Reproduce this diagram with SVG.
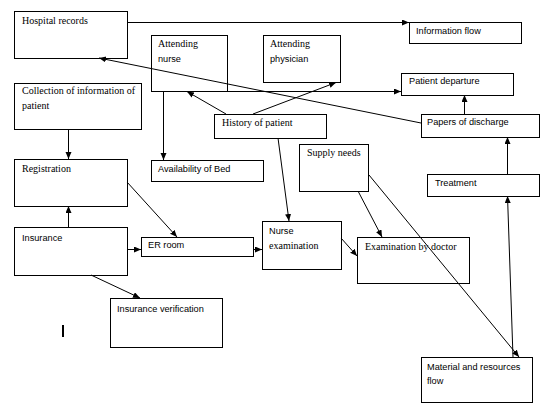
<svg xmlns="http://www.w3.org/2000/svg" width="541" height="417" viewBox="0 0 541 417">
<style>
.box{fill:none;stroke:#000;stroke-width:1}
.c{fill:none;stroke:#000;stroke-width:1;marker-end:url(#ah)}
.s{font-family:"Times New Roman","Liberation Serif",serif;font-size:10px;fill:#000}
.a{font-family:"Liberation Sans",Arial,sans-serif;font-size:9.2px;fill:#000}
</style>
<defs>
<marker id="ah" markerUnits="userSpaceOnUse" markerWidth="8" markerHeight="7" refX="7" refY="3" orient="auto">
<path d="M0,0 L7,3 L0,6 z" fill="#000"/>
</marker>
</defs>
<rect width="541" height="417" fill="#fff"/>
<g id="connectors">
<line class="c" x1="127" y1="22.5" x2="409" y2="22.5"/>
<line class="c" x1="226" y1="114" x2="187" y2="91.5"/>
<line class="c" x1="253" y1="114" x2="336" y2="82.5"/>
<line class="c" x1="227" y1="91.5" x2="401" y2="91.5"/>
<line class="c" x1="163.5" y1="91" x2="163.5" y2="160"/>
<line class="c" x1="421" y1="123" x2="99" y2="58"/>
<line class="c" x1="68.5" y1="129" x2="68.5" y2="159"/>
<line class="c" x1="68.5" y1="227" x2="68.5" y2="206"/>
<line class="c" x1="127" y1="182" x2="177" y2="237"/>
<line class="c" x1="127" y1="249.5" x2="141" y2="249.5"/>
<line class="c" x1="253" y1="249.5" x2="262" y2="249.5"/>
<line class="c" x1="91" y1="275" x2="140" y2="298"/>
<line class="c" x1="278" y1="138" x2="289" y2="221"/>
<line class="c" x1="341" y1="238" x2="357" y2="256"/>
<line class="c" x1="358" y1="191" x2="382" y2="237"/>
<line class="c" x1="369" y1="175" x2="519" y2="357"/>
<line class="c" x1="513" y1="357" x2="507.5" y2="196"/>
<line class="c" x1="507.5" y1="174" x2="507.5" y2="137"/>
<line class="c" x1="464.5" y1="114" x2="464.5" y2="95"/>
</g>
<g id="hospital-records"><rect class="box" x="14.5" y="11.5" width="113" height="47"/><text class="s" x="22" y="24">Hospital records</text></g>
<g id="information-flow"><rect class="box" x="409.5" y="22.5" width="112" height="21"/><text class="a" x="416" y="34">Information flow</text></g>
<g id="attending-nurse"><rect class="box" x="151.5" y="35.5" width="76" height="56"/><text class="s" x="158" y="47">Attending</text><text class="a" x="158" y="62">nurse</text></g>
<g id="attending-physician"><rect class="box" x="263.5" y="35.5" width="77" height="47"/><text class="s" x="270" y="47">Attending</text><text class="a" x="270" y="62">physician</text></g>
<g id="collection"><rect class="box" x="14.5" y="83.5" width="127" height="46"/><text class="s" x="22" y="94">Collection of information of</text><text class="s" x="22" y="109">patient</text></g>
<g id="history"><rect class="box" x="214.5" y="114.5" width="112" height="24"/><text class="s" x="222" y="126">History of patient</text></g>
<g id="patient-departure"><rect class="box" x="401.5" y="73.5" width="112" height="22"/><text class="a" x="409" y="84">Patient departure</text></g>
<g id="papers-of-discharge"><rect class="box" x="421.5" y="114.5" width="118" height="23"/><text class="a" x="427" y="125">Papers of discharge</text></g>
<g id="registration"><rect class="box" x="14.5" y="159.5" width="113" height="47"/><text class="s" x="22" y="172">Registration</text></g>
<g id="availability"><rect class="box" x="151.5" y="160.5" width="112" height="21"/><text class="a" x="158" y="172">Availability of Bed</text></g>
<g id="supply-needs"><rect class="box" x="299.5" y="144.5" width="69" height="47"/><text class="s" x="307" y="156">Supply needs</text></g>
<g id="treatment"><rect class="box" x="427.5" y="174.5" width="112" height="22"/><text class="a" x="435" y="186">Treatment</text></g>
<g id="insurance"><rect class="box" x="14.5" y="227.5" width="113" height="48"/><text class="a" x="22" y="241">Insurance</text></g>
<g id="er-room"><rect class="box" x="141.5" y="237.5" width="112" height="19"/><text class="a" x="148" y="248">ER room</text></g>
<g id="nurse-examination"><rect class="box" x="262.5" y="221.5" width="79" height="48"/><text class="a" x="269" y="234">Nurse</text><text class="s" x="269" y="249">examination</text></g>
<g id="examination-by-doctor"><rect class="box" x="357.5" y="237.5" width="112" height="46"/><text class="s" x="365" y="250">Examination by doctor</text></g>
<g id="insurance-verification"><rect class="box" x="110.5" y="298.5" width="112" height="49"/><text class="a" x="117" y="312">Insurance verification</text></g>
<g id="material"><rect class="box" x="421.5" y="357.5" width="111" height="45"/><text class="a" x="427" y="370">Material and resources</text><text class="a" x="427" y="384">flow</text></g>
<rect x="62" y="325" width="2" height="12" fill="#000"/>
</svg>
